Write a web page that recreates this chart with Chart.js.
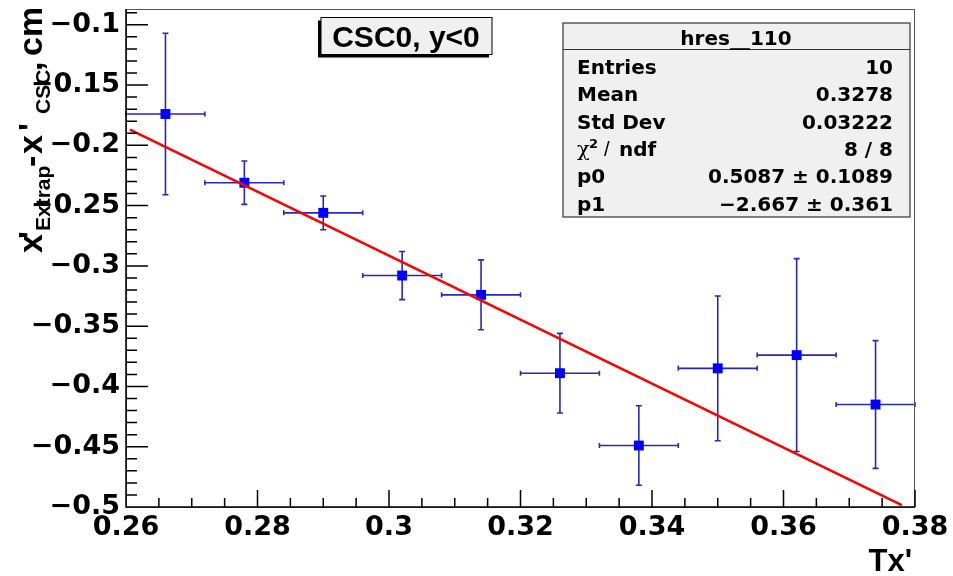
<!DOCTYPE html>
<html><head><meta charset="utf-8">
<script src="https://cdn.jsdelivr.net/npm/chart.js@4.4.0/dist/chart.umd.min.js"></script>
<style>html,body{margin:0;padding:0;background:#fff;}canvas{display:block;}</style>
</head><body>
<canvas id="c" width="953" height="576"></canvas>
<script>
// ---- data ----
const xVals = [0.266, 0.278, 0.290, 0.302, 0.314, 0.326, 0.338, 0.350, 0.362, 0.374];
const yVals = [-0.174, -0.231, -0.256, -0.308, -0.324, -0.389, -0.449, -0.385, -0.374, -0.415];
const xErrs = [0.006, 0.006, 0.006, 0.006, 0.006, 0.006, 0.006, 0.006, 0.006, 0.006];
const yErrs = [0.067, 0.018, 0.014, 0.020, 0.029, 0.033, 0.033, 0.060, 0.080, 0.053];
const fitX = [0.2606, 0.3780];
const fitY = [-0.1870, -0.4985];
const xTickValues = [0.26, 0.28, 0.30, 0.32, 0.34, 0.36, 0.38];
const xTickLabels = ['0.26', '0.28', '0.3', '0.32', '0.34', '0.36', '0.38'];
const yTickValues = [-0.5, -0.45, -0.4, -0.35, -0.3, -0.25, -0.2, -0.15, -0.1];
const yTickLabels = ['\u22120.5', '\u22120.45', '\u22120.4', '\u22120.35', '\u22120.3', '\u22120.25', '\u22120.2', '\u22120.15', '\u22120.1'];
const xMinorTicks = [0.265, 0.27, 0.275, 0.285, 0.29, 0.295, 0.305, 0.31, 0.315, 0.325, 0.33, 0.335, 0.345, 0.35, 0.355, 0.365, 0.37, 0.375];
const yMinorTicks = [-0.49, -0.48, -0.47, -0.46, -0.44, -0.43, -0.42, -0.41, -0.39, -0.38, -0.37, -0.36, -0.34, -0.33, -0.32, -0.31, -0.29, -0.28, -0.27, -0.26, -0.24, -0.23, -0.22, -0.21, -0.19, -0.18, -0.17, -0.16, -0.14, -0.13, -0.12, -0.11, -0.09];
const xRange = [0.26, 0.38];
const yRange = [-0.5, -0.0869];
const xTitle = "Tx'";
const paveTitle = 'CSC0, y<0';
const statsTitle = 'hres__110';
const statsLabels = ['Entries', 'Mean', 'Std Dev', 'CHI', 'p0', 'p1'];
const statsValues = ['10', '0.3278', '0.03222', '8 / 8', '0.5087 \u00b1 0.1089', '\u22122.667 \u00b1 0.361'];

const FONT = '"Liberation Sans", Arial, sans-serif';
const WFONT = '"DejaVu Sans", sans-serif';
const errColor = 'rgb(40,40,185)';

const errorBars = {
  id: 'errorBars',
  beforeDatasetsDraw(chart) {
    const {ctx, scales: {x, y}} = chart;
    ctx.save();
    ctx.strokeStyle = errColor;
    ctx.lineWidth = 1.6;
    for (let i = 0; i < xVals.length; i++) {
      const px = x.getPixelForValue(xVals[i]);
      const py = y.getPixelForValue(yVals[i]);
      const xl = x.getPixelForValue(xVals[i] - xErrs[i]);
      const xr = x.getPixelForValue(xVals[i] + xErrs[i]);
      const yt = y.getPixelForValue(yVals[i] + yErrs[i]);
      const yb = y.getPixelForValue(yVals[i] - yErrs[i]);
      ctx.beginPath();
      ctx.moveTo(xl, py); ctx.lineTo(xr, py);
      ctx.moveTo(xl, py - 2.5); ctx.lineTo(xl, py + 2.5);
      ctx.moveTo(xr, py - 2.5); ctx.lineTo(xr, py + 2.5);
      ctx.moveTo(px, yt); ctx.lineTo(px, yb);
      ctx.moveTo(px - 3, yt); ctx.lineTo(px + 3, yt);
      ctx.moveTo(px - 3, yb); ctx.lineTo(px + 3, yb);
      ctx.stroke();
    }
    ctx.restore();
  }
};

const frameTicks = {
  id: 'frameTicks',
  afterDatasetsDraw(chart) {
    const {ctx, chartArea: a, scales: {x, y}} = chart;
    ctx.save();
    ctx.strokeStyle = '#555';
    ctx.lineWidth = 1;
    ctx.strokeRect(a.left + 0.5, a.top + 0.5, a.right - a.left - 1, a.bottom - a.top);
    ctx.strokeStyle = '#000';
    ctx.lineWidth = 1.5;
    ctx.beginPath();
    ctx.moveTo(a.left, a.top); ctx.lineTo(a.left, a.bottom); ctx.lineTo(a.right, a.bottom);
    xTickValues.forEach(v => { const p = x.getPixelForValue(v); ctx.moveTo(p, a.bottom); ctx.lineTo(p, a.bottom - 17); });
    xMinorTicks.forEach(v => { const p = x.getPixelForValue(v); ctx.moveTo(p, a.bottom); ctx.lineTo(p, a.bottom - 9); });
    yTickValues.forEach(v => { const p = y.getPixelForValue(v); ctx.moveTo(a.left, p); ctx.lineTo(a.left + 22, p); });
    yMinorTicks.forEach(v => { const p = y.getPixelForValue(v); ctx.moveTo(a.left, p); ctx.lineTo(a.left + 11, p); });
    ctx.stroke();
    ctx.restore();
  },
  afterDraw(chart) {
    const ctx = chart.ctx;
    ctx.save();
    ctx.fillStyle = '#000';
    // x title
    ctx.font = 'bold 31px ' + FONT;
    ctx.textAlign = 'right';
    ctx.textBaseline = 'alphabetic';
    ctx.fillText(xTitle, 912, 571);
    // y title (rotated)
    ctx.save();
    ctx.translate(42, 253);
    ctx.rotate(-Math.PI / 2);
    ctx.textAlign = 'left';
    const main = 'bold 34px ' + FONT, sub = 'bold 21px ' + FONT;
    const pieces = [
      ['x', main, 0, 0], ["'", main, 14, 0], ['Extrap', sub, 22, 8],
      ['-', main, 86, 0], ['x', main, 99, 0], ["'", main, 122, 0],
      ['CSC', sub, 139, 8], [',', main, 182, 0], ['cm', main, 197, 0]
    ];
    pieces.forEach(([t, f, px, py]) => { ctx.font = f; ctx.fillText(t, px, py); });
    ctx.restore();

    // title pave
    ctx.fillStyle = '#000';
    ctx.fillRect(318, 20.5, 171, 37);
    ctx.fillStyle = '#f0f0f0';
    ctx.fillRect(321, 17.5, 171, 37);
    ctx.strokeStyle = '#000';
    ctx.lineWidth = 1;
    ctx.strokeRect(321, 17.5, 171, 37);
    ctx.fillStyle = '#000';
    ctx.font = 'bold 30px ' + FONT;
    ctx.textAlign = 'center';
    ctx.fillText(paveTitle, 406, 47);

    // stats box
    ctx.fillStyle = '#f0f0f0';
    ctx.fillRect(563, 23, 347, 194);
    ctx.strokeStyle = '#333';
    ctx.lineWidth = 1.2;
    ctx.strokeRect(563, 23, 347, 194);
    ctx.beginPath(); ctx.moveTo(563, 49.5); ctx.lineTo(910, 49.5); ctx.stroke();
    ctx.fillStyle = '#000';
    ctx.font = 'bold 20px ' + WFONT;
    ctx.textAlign = 'center';
    ctx.fillText(statsTitle, 736, 45);
    statsLabels.forEach((lab, i) => {
      const by = 74 + i * 27.3;
      ctx.textAlign = 'left';
      if (lab === 'CHI') {
        ctx.font = '21px "DejaVu Serif", serif';
        ctx.fillText('\u03c7', 577, by);
        ctx.font = 'bold 13px ' + WFONT;
        ctx.fillText('2', 589, by - 8);
        ctx.font = '20px ' + FONT;
        ctx.fillText('/', 604, by);
        ctx.font = 'bold 20px ' + WFONT;
        ctx.fillText('ndf', 619, by);
      } else {
        ctx.font = 'bold 20px ' + WFONT;
        ctx.fillText(lab, 577, by);
      }
      ctx.textAlign = 'right';
      ctx.fillText(statsValues[i], 893, by);
    });
    ctx.restore();
  }
};

new Chart(document.getElementById('c').getContext('2d'), {
  type: 'scatter',
  data: {
    datasets: [
      {
        label: 'fit', type: 'line',
        data: fitX.map((v, i) => ({x: v, y: fitY[i]})),
        borderColor: '#ff0000', borderWidth: 2.6, pointRadius: 0, fill: false, order: 1
      },
      {
        label: 'data',
        data: xVals.map((v, i) => ({x: v, y: yVals[i]})),
        pointStyle: 'rect', pointRadius: 7, backgroundColor: '#0000ff',
        borderColor: '#0000ff', borderWidth: 0, order: 2
      }
    ]
  },
  options: {
    responsive: false, animation: false, devicePixelRatio: 1,
    layout: {padding: {top: 9, right: 38, left: 0, bottom: 0}},
    plugins: {legend: {display: false}, tooltip: {enabled: false}},
    scales: {
      x: {
        type: 'linear', min: xRange[0], max: xRange[1],
        grid: {display: false, drawTicks: false}, border: {display: false},
        afterBuildTicks(s) { s.ticks = xTickValues.map(v => ({value: v})); },
        afterFit(s) { s.height = 69; s.paddingLeft = 0; s.paddingRight = 0; },
        ticks: {autoSkip: false, maxRotation: 0, minRotation: 0, padding: 5, color: '#000',
          font: {family: WFONT, size: 27, weight: 'bold'},
          callback: (v, i) => xTickLabels[i]}
      },
      y: {
        type: 'linear', min: yRange[0], max: yRange[1],
        grid: {display: false, drawTicks: false}, border: {display: false},
        afterBuildTicks(s) { s.ticks = yTickValues.map(v => ({value: v})); },
        afterFit(s) { s.width = 126; s.paddingTop = 0; s.paddingBottom = 0; },
        ticks: {autoSkip: false, padding: 6, color: '#000',
          font: {family: WFONT, size: 27, weight: 'bold'},
          callback: (v, i) => yTickLabels[i]}
      }
    }
  },
  plugins: [errorBars, frameTicks]
});
</script>
</body></html>
